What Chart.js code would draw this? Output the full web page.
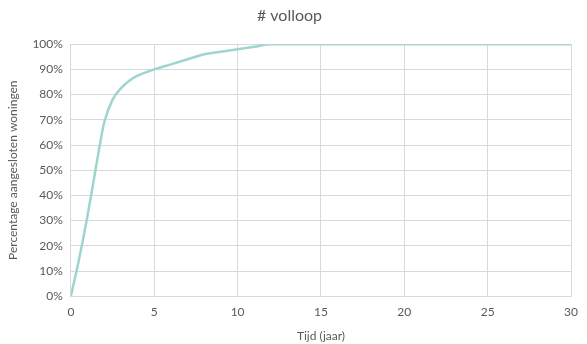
<!DOCTYPE html>
<html>
<head>
<meta charset="utf-8">
<script src="https://cdn.jsdelivr.net/npm/chart.js@4"></script>
<style>
  html, body { margin: 0; padding: 0; background: #fff; }
  #wrap { width: 587px; height: 344px; }
</style>
</head>
<body>
<div id="wrap"><canvas id="chart"></canvas></div>
<script>
// years since start
const years = [0, 0.5, 1, 1.5, 2, 2.5, 3, 3.5, 4, 5, 6, 7, 8, 9, 10, 11, 12, 15, 20, 25, 30];
// percentage of connected homes
const percentage = [0, 15, 32, 51, 69, 78, 82.5, 85.5, 87.5, 90, 92, 94, 96, 97, 98, 99, 100, 100, 100, 100, 100];

const textColor = '#595959';
const fontFamily = 'Lato, "Open Sans", sans-serif';

const ctx = document.getElementById('chart').getContext('2d');
new Chart(ctx, {
  type: 'line',
  data: {
    datasets: [{
      label: '# volloop',
      data: years.map((x, i) => ({ x: x, y: percentage[i] })),
      borderColor: '#9fd4cf',
      borderWidth: 2.5,
      pointRadius: 0,
      cubicInterpolationMode: 'monotone'
    }]
  },
  options: {
    responsive: true,
    maintainAspectRatio: false,
    animation: false,
    layout: { padding: { top: 4, right: 10, bottom: 1, left: 2 } },
    plugins: {
      legend: { display: false },
      title: {
        display: true,
        text: '# volloop',
        color: textColor,
        font: { family: fontFamily, size: 16, weight: 'normal' },
        padding: { top: 2, bottom: 19 }
      },
      tooltip: { enabled: false }
    },
    scales: {
      x: {
        type: 'linear',
        min: 0,
        max: 30,
        ticks: { stepSize: 5, color: textColor, font: { family: fontFamily, size: 12 }, padding: 9 },
        grid: { color: '#d9d9d9', drawTicks: false },
        border: { color: '#d9d9d9' },
        title: { display: true, text: 'Tijd (jaar)', color: textColor, font: { family: fontFamily, size: 12 }, padding: { top: 0, bottom: 0 } }
      },
      y: {
        min: 0,
        max: 100,
        ticks: {
          stepSize: 10,
          color: textColor,
          font: { family: fontFamily, size: 12 },
          padding: 8,
          callback: v => v + '%'
        },
        grid: { color: '#d9d9d9', drawTicks: false },
        border: { color: '#d9d9d9' },
        title: { display: true, text: 'Percentage aangesloten woningen', color: textColor, font: { family: fontFamily, size: 12 }, padding: { bottom: 4 } }
      }
    }
  }
});
</script>
</body>
</html>
